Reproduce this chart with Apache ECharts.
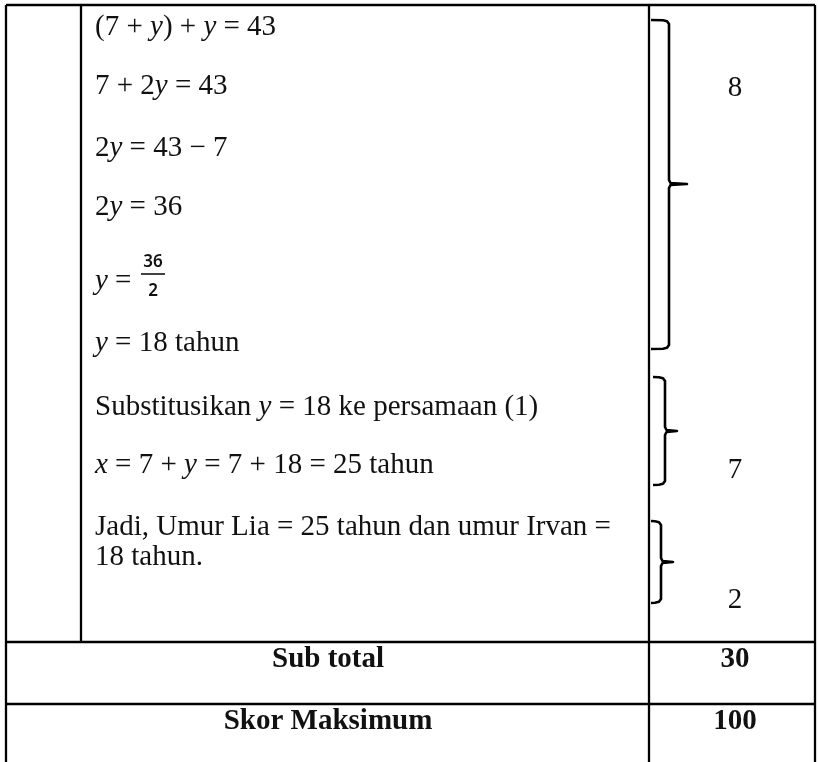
<!DOCTYPE html>
<html><head><meta charset="utf-8">
<script src="https://cdn.jsdelivr.net/npm/echarts@6/dist/echarts.min.js"></script>
<style>html,body{margin:0;padding:0;background:#fff}#c{width:818px;height:762px}</style>
</head><body><div id="c"></div><script>
// ---------- content (values) ----------
const workLines = [
  '(7 + *y*) + *y* = 43',
  '7 + 2*y* = 43',
  '2*y* = 43 \u2212 7',
  '2*y* = 36',
  '*y* = ',
  '*y* = 18 tahun',
  'Substitusikan *y* = 18 ke persamaan (1)',
  '*x* = 7 + *y* = 7 + 18 = 25 tahun',
  'Jadi, Umur Lia = 25 tahun dan umur Irvan =',
  '18 tahun.'
];
const fractionNumerator = '36';
const fractionDenominator = '2';
const stepScores = [8, 7, 2];
const summaryLabels = ['Sub total', 'Skor Maksimum'];
const summaryValues = [30, 100];

// ---------- layout (positions in page units) ----------
const W = 818, H = 762;
const colX = { outerL: 6, inner: 81, divider: 649, outerR: 815 };
const rowY = { top: 5, sub: 642, max: 704, bottom: 762 };
const textLeft = 95;
const lineY = [27, 86, 148, 207, 281, 343, 407, 465, 527, 557];
const fraction = { x: 153, numY: 262, barY: 274, denY: 291, half: 12 };
const scoreX = 735;
const scoreY = [88, 470, 600];
const summaryLabelX = 328;
const summaryY = [660, 722];
// braces: [top, mid, bottom, xLeft, xVert, xTip]
const braces = [
  [20, 184, 349, 651, 669, 687],
  [377, 431, 485, 653, 665, 677],
  [521, 562, 603, 651, 661, 673]
];
const segments = [
  [colX.outerL, rowY.top, colX.outerR, rowY.top],
  [colX.outerL, rowY.sub, colX.outerR, rowY.sub],
  [colX.outerL, rowY.max, colX.outerR, rowY.max],
  [colX.outerL, rowY.top, colX.outerL, rowY.bottom],
  [colX.inner, rowY.top, colX.inner, rowY.sub],
  [colX.divider, rowY.top, colX.divider, rowY.bottom],
  [colX.outerR, rowY.top, colX.outerR, rowY.bottom]
];

const SERIF = '"Liberation Serif", "Times New Roman", "DejaVu Serif", serif';
const FS = 29;
const INK = '#111';

function toRich(s) {
  return s.split('*').map((seg, i) => seg === '' ? '' : (i % 2 ? '{i|' + seg + '}' : '{n|' + seg + '}')).join('');
}

const textItems = [];
workLines.forEach((t, i) => textItems.push({ x: textLeft, y: lineY[i], text: t, align: 'left' }));
stepScores.forEach((v, i) => textItems.push({ x: scoreX, y: scoreY[i], text: String(v), align: 'center' }));
summaryLabels.forEach((t, i) => textItems.push({ x: summaryLabelX, y: summaryY[i], text: t, align: 'center', bold: true }));
summaryValues.forEach((v, i) => textItems.push({ x: scoreX, y: summaryY[i], text: String(v), align: 'center', bold: true }));
const fracItems = [
  { x: fraction.x, y: fraction.numY, text: fractionNumerator },
  { x: fraction.x, y: fraction.denY, text: fractionDenominator }
];

const chart = echarts.init(document.getElementById('c'), null, { renderer: 'canvas' });
chart.setOption({
  backgroundColor: '#fff',
  animation: false,
  grid: { left: 0, right: 0, top: 0, bottom: 0 },
  xAxis: { type: 'value', min: 0, max: W, show: false },
  yAxis: { type: 'value', min: 0, max: H, inverse: true, show: false },
  series: [
    {
      type: 'custom', silent: true,
      data: segments,
      renderItem: (p, api) => {
        const a = api.coord([api.value(0), api.value(1)]);
        const b = api.coord([api.value(2), api.value(3)]);
        return { type: 'line', shape: { x1: a[0], y1: a[1], x2: b[0], y2: b[1] },
          style: { stroke: '#000', lineWidth: 2.3 } };
      }
    },
    {
      type: 'custom', silent: true,
      data: braces,
      renderItem: (p, api) => {
        const top = api.value(0), mid = api.value(1), bot = api.value(2);
        const xl = api.value(3), xv = api.value(4), xt = api.value(5);
        const pts = [
          [xl, top], [xv - 6, top + 0.3], [xv - 2, top + 1.2], [xv, top + 4],
          [xv, mid - 4], [xv + 1.5, mid - 1], [xt, mid], [xv + 1.5, mid + 1], [xv, mid + 4],
          [xv, bot - 4], [xv - 2, bot - 1.2], [xv - 6, bot - 0.3], [xl, bot]
        ].map(q => api.coord(q));
        return { type: 'polyline', shape: { points: pts },
          style: { stroke: '#000', lineWidth: 2.6, fill: null, lineJoin: 'round' } };
      }
    },
    {
      type: 'custom', silent: true,
      data: [[fraction.x - fraction.half, fraction.barY, fraction.x + fraction.half, fraction.barY]],
      renderItem: (p, api) => {
        const a = api.coord([api.value(0), api.value(1)]);
        const b = api.coord([api.value(2), api.value(3)]);
        return { type: 'line', shape: { x1: a[0], y1: a[1], x2: b[0], y2: b[1] },
          style: { stroke: '#111', lineWidth: 1.6 } };
      }
    },
    {
      type: 'custom', silent: true,
      data: fracItems.map((t, i) => [t.x, t.y, i]),
      renderItem: (p, api) => {
        const t = fracItems[api.value(2)];
        const c = api.coord([api.value(0), api.value(1)]);
        return { type: 'text', x: c[0], y: c[1],
          style: { text: t.text, fontFamily: '"Noto Sans", "DejaVu Sans", sans-serif', fontSize: 17,
            fontWeight: 600, fill: INK, align: 'center', verticalAlign: 'middle' } };
      }
    },
    {
      type: 'custom', silent: true,
      data: textItems.map((t, i) => [t.x, t.y, i]),
      renderItem: (p, api) => {
        const t = textItems[api.value(2)];
        const c = api.coord([api.value(0), api.value(1)]);
        const w = t.bold ? 'bold' : 'normal';
        return { type: 'text', x: c[0], y: c[1],
          style: {
            text: toRich(t.text),
            fontFamily: SERIF, fontSize: FS, fontWeight: w, fill: INK,
            align: t.align, verticalAlign: 'middle',
            rich: {
              n: { fontFamily: SERIF, fontSize: FS, fontWeight: w, fill: INK },
              i: { fontFamily: SERIF, fontSize: FS, fontWeight: w, fontStyle: 'italic', fill: INK }
            }
          } };
      }
    }
  ]
});
</script></body></html>
